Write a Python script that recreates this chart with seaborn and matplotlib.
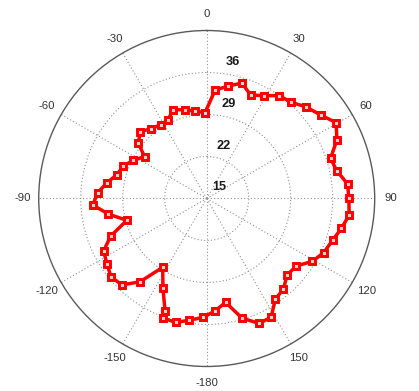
import numpy as np
import pandas as pd
import matplotlib
matplotlib.use("Agg")
import matplotlib.pyplot as plt
from matplotlib.transforms import offset_copy
import seaborn as sns

# Measured pattern: azimuth (degrees, clockwise from north) and level
azimuth_deg = [
    -1.1, 4.4, 10.9, 16.9, 23.0, 29.1, 35.2, 41.1, 47.2, 53.8,
    59.6, 65.8, 72.0, 77.9, 84.1, 90.0, 96.6, 102.5, 108.4, 114.8,
    120.7, 127.0, 133.6, 139.8, 145.7, 151.5, 157.2, 163.5, 169.7, 175.8,
    181.6, 188.1, 194.1, 200.0, 200.3, 206.0, 212.6, 218.7, 224.5, 230.8,
    236.5, 243.0, 248.6, 254.7, 261.0, 266.7, 273.1, 279.1, 284.8, 291.4,
    297.4, 304.0, 308.9, 315.1, 321.3, 328.0, 333.6, 339.4, 346.1, 352.2,
]
level = [
    29.3, 33.1, 34.1, 35.1, 33.75, 34.6, 36.0, 36.3, 37.5, 38.55,
    40.0, 38.8, 36.7, 37.15, 38.6, 38.7, 38.9, 38.0, 37.1, 36.5,
    35.5, 33.7, 33.5, 34.8, 35.3, 37.5, 37.6, 35.8, 32.6, 33.8,
    34.8, 35.5, 36.3, 36.2, 35.0, 31.65, 28.6, 32.8, 35.2, 35.6,
    34.9, 34.3, 32.2, 28.8, 31.6, 34.0, 33.2, 31.8, 30.5, 29.9,
    28.8, 27.5, 29.65, 30.7, 29.9, 29.5, 29.6, 30.8, 30.25, 29.7,
]

ring_values = [15, 22, 29, 36]
r_min, r_max = 15, 43
angle_ticks = [0, 30, 60, 90, 120, 150, 180, 210, 240, 270, 300, 330]
angle_labels = ["0", "30", "60", "90", "120", "150", "-180",
                "-150", "-120", "-90", "-60", "-30"]

sns.set_style("white")
plt.rcParams["font.family"] = ["Liberation Sans", "DejaVu Sans"]

fig = plt.figure(figsize=(4.19, 3.91), dpi=100)
ax = fig.add_axes([0.0924, 0.0627, 0.8019, 0.8593], projection="polar")
ax.set_theta_zero_location("N")
ax.set_theta_direction(-1)
ax.set_rlim(r_min, r_max)

# closed loop of the pattern
df = pd.DataFrame({
    "theta": np.deg2rad(azimuth_deg + azimuth_deg[:1]),
    "r": level + level[:1],
})
sns.lineplot(data=df, x="theta", y="r", sort=False, estimator=None, ax=ax,
             color="#ff0000", linewidth=2.5, marker="s", markersize=5,
             markerfacecolor="#ffd0d0", markeredgecolor="#ff0000",
             markeredgewidth=2.1, zorder=5)

# grid
ax.set_xticks(np.deg2rad(angle_ticks))
ax.set_xticklabels([])
ax.set_yticks(ring_values[1:])
ax.set_yticklabels([])
ax.grid(True, color="#909090", linestyle=(0, (1, 2)), linewidth=0.8)
ax.spines["polar"].set_color("#5a5a5a")
ax.spines["polar"].set_linewidth(1.0)
ax.set_xlabel("")
ax.set_ylabel("")

# angle labels outside the outer circle
for t, lab in zip(angle_ticks, angle_labels):
    ax.text(np.deg2rad(t), r_max + 2.7, lab, ha="center", va="center",
            fontsize=8.2, color="#333333", clip_on=False)

# ring labels
off = offset_copy(ax.transData, fig=fig, x=13, y=11, units="dots")
for v in ring_values:
    ax.text(np.deg2rad(6), v, str(v), transform=off, ha="center",
            va="center", fontsize=9.2, fontweight="bold", color="#1a1a1a")

fig.savefig("out.png", dpi=100)
